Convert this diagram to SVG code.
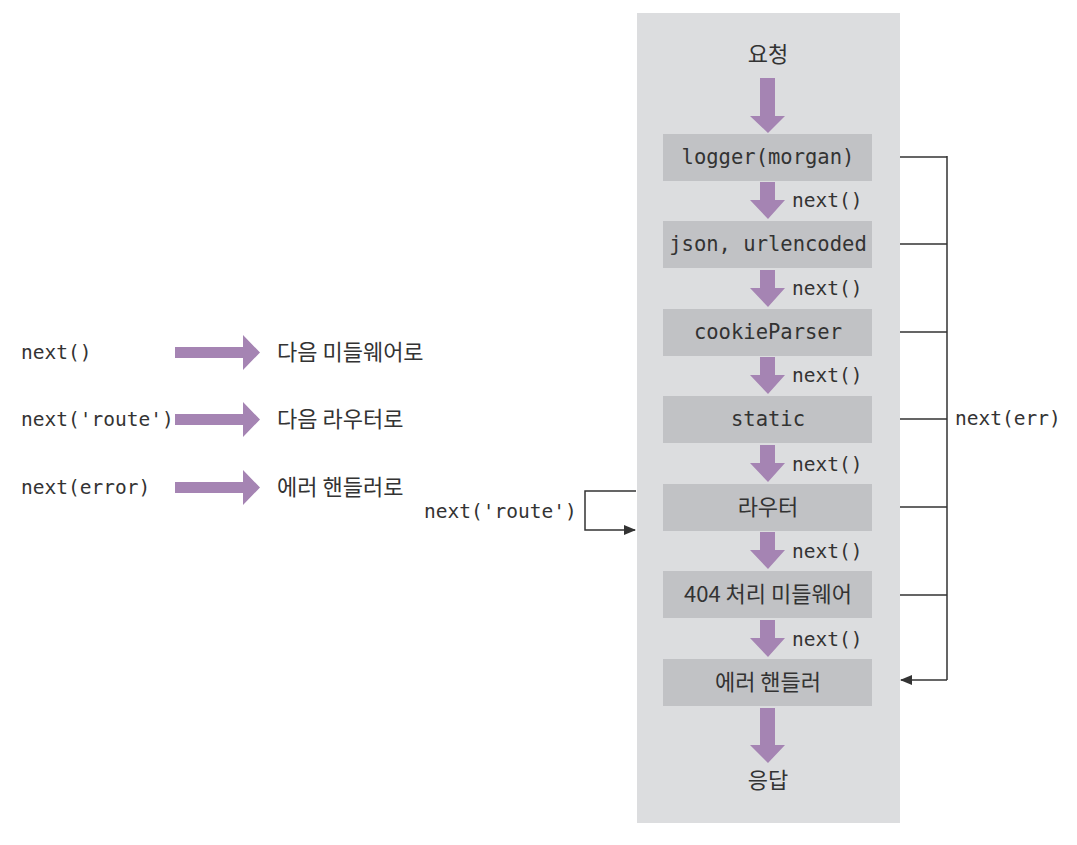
<svg xmlns="http://www.w3.org/2000/svg" width="1077" height="845" viewBox="0 0 1077 845">
<style>
.mono{font-family:"DejaVu Sans Mono","Liberation Mono",monospace;font-size:19.5px;fill:#333}
.bx{font-family:"DejaVu Sans Mono","Liberation Mono",monospace;font-size:20.5px;fill:#333;text-anchor:middle}
.kr{font-family:"Noto Sans CJK KR","Noto Sans",sans-serif;font-size:22px;fill:#333}
.krc{font-family:"Noto Sans CJK KR","Noto Sans",sans-serif;font-size:22px;fill:#333;text-anchor:middle}
.box{fill:#c1c2c5}
.pa{fill:#a584b3}
.ln{fill:none;stroke:#333;stroke-width:1.5}
</style>
<defs>
<marker id="ah" markerWidth="12" markerHeight="10" refX="11" refY="5" orient="auto" markerUnits="userSpaceOnUse">
<path d="M0,0 L12,5 L0,10 z" fill="#333"/>
</marker>
</defs>
<rect width="1077" height="845" fill="#fff"/>
<rect id="panel" x="637" y="13" width="263" height="810" fill="#dcdddf"/>

<g id="connectors">
<path class="pa" d="M760,78 H775 V116 H785 L768,133 L750,116 H760 Z"/>
<path class="pa" d="M760,182 H775 V200 H785 L768,219 L750,200 H760 Z"/>
<path class="pa" d="M760,270 H775 V288 H785 L768,307 L750,288 H760 Z"/>
<path class="pa" d="M760,357 H775 V375 H785 L768,394 L750,375 H760 Z"/>
<path class="pa" d="M760,445 H775 V463 H785 L768,482 L750,463 H760 Z"/>
<path class="pa" d="M760,532 H775 V550 H785 L768,569 L750,550 H760 Z"/>
<path class="pa" d="M760,620 H775 V638 H785 L768,657 L750,638 H760 Z"/>
<path class="pa" d="M760,708 H775 V745 H785 L768,763 L750,745 H760 Z"/>
<text class="mono" x="792" y="207">next()</text>
<text class="mono" x="792" y="295">next()</text>
<text class="mono" x="792" y="382">next()</text>
<text class="mono" x="792" y="471">next()</text>
<text class="mono" x="792" y="558">next()</text>
<text class="mono" x="792" y="646">next()</text>
<path class="ln" d="M900,157 H947 M900,244 H947 M900,332 H947 M900,419 H947 M900,507 H947 M900,595 H947 M947,156 V680"/>
<path class="ln" d="M947,680 H901" marker-end="url(#ah)"/>
<text class="mono" x="955" y="425">next(err)</text>
<path class="ln" d="M636,491 H585 V530 H635" marker-end="url(#ah)"/>
<text class="mono" x="424" y="518">next('route')</text>
</g>

<g id="n-req"><text class="krc" x="768" y="62">요청</text></g>
<g id="n-logger"><rect class="box" x="663" y="134" width="209" height="47"/><text class="bx" x="768" y="164">logger(morgan)</text></g>
<g id="n-json"><rect class="box" x="663" y="221" width="209" height="47"/><text class="bx" x="768" y="251">json, urlencoded</text></g>
<g id="n-cookie"><rect class="box" x="663" y="309" width="209" height="47"/><text class="bx" x="768" y="339">cookieParser</text></g>
<g id="n-static"><rect class="box" x="663" y="396" width="209" height="47"/><text class="bx" x="768" y="426">static</text></g>
<g id="n-router"><rect class="box" x="663" y="484" width="209" height="47"/><text class="krc" x="768" y="515">라우터</text></g>
<g id="n-404"><rect class="box" x="663" y="571" width="209" height="47"/><text class="krc" x="768" y="602">404 처리 미들웨어</text></g>
<g id="n-err"><rect class="box" x="663" y="659" width="209" height="47"/><text class="krc" x="768" y="690">에러 핸들러</text></g>
<g id="n-res"><text class="krc" x="768" y="788">응답</text></g>

<g id="legend">
<text class="mono" x="21" y="359">next()</text>
<path class="pa" d="M175,347 H243 V335 L260,352.5 L243,370 V358 H175 Z"/>
<text class="kr" x="277" y="360">다음 미들웨어로</text>
<text class="mono" x="21" y="426">next('route')</text>
<path class="pa" d="M175,414 H243 V402 L260,419.5 L243,437 V425 H175 Z"/>
<text class="kr" x="277" y="427">다음 라우터로</text>
<text class="mono" x="21" y="494">next(error)</text>
<path class="pa" d="M175,482 H243 V470 L260,487.5 L243,505 V493 H175 Z"/>
<text class="kr" x="277" y="495">에러 핸들러로</text>
</g>
</svg>
